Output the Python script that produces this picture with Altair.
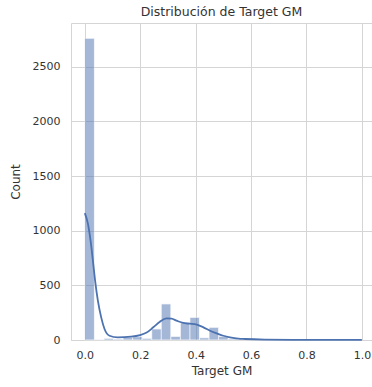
import altair as alt
import pandas as pd

# Histogram of Target GM: 29 equal-width bins over [0, 1]
n_bins = 29
bin_counts = [2760, 5, 15, 8, 25, 30, 15, 101, 330, 33, 157, 207, 20, 116, 33,
              10, 5, 3, 2, 1, 1, 1, 0, 1, 0, 1, 0, 1, 3]

# Kernel density estimate (scaled to counts)
kde_x = [0.0, 0.011, 0.0205, 0.029, 0.037, 0.047, 0.059, 0.071, 0.089, 0.119,
         0.167, 0.199, 0.223, 0.247, 0.271, 0.295, 0.313, 0.331, 0.355, 0.379,
         0.404, 0.428, 0.452, 0.476, 0.5, 0.524, 0.554, 0.578, 0.65, 0.75, 0.9, 1.0]
kde_y = [1161, 1064, 911, 727, 544, 360, 207, 101, 39, 24,
         30, 44, 68, 116, 168, 198, 195, 177, 156, 149,
         140, 116, 85, 61, 39, 24, 12, 9, 4, 2, 2, 2]

x_ticks = [0.0, 0.2, 0.4, 0.6, 0.8, 1.0]
y_ticks = [0, 500, 1000, 1500, 2000, 2500]

hist = pd.DataFrame({
    "start": [i / n_bins for i in range(n_bins)],
    "end": [(i + 1) / n_bins for i in range(n_bins)],
    "count": bin_counts,
})
kde = pd.DataFrame({"x": kde_x, "y": kde_y})

FONT = "DejaVu Sans"
TEXT = "#333333"
GRID = "#d5d5d5"
BLUE = "#4C72B0"

x_scale = alt.Scale(domain=[-0.05, 1.0365], nice=False, zero=False)
y_scale = alt.Scale(domain=[0, 2900], nice=False)

x_axis = alt.Axis(values=x_ticks, format=".1f", title="Target GM", tickSize=0,
                  domain=False, labelPadding=9, titlePadding=5, labelFlush=False)
y_axis = alt.Axis(values=y_ticks, format="d", title="Count", tickSize=0,
                  domain=False, labelPadding=11, titlePadding=10)

bars = alt.Chart(hist).mark_bar(
    color=BLUE, opacity=0.5, stroke="white", strokeWidth=0.7, strokeOpacity=1
).encode(
    x=alt.X("start:Q", scale=x_scale, axis=x_axis),
    x2="end:Q",
    y=alt.Y("count:Q", scale=y_scale, axis=y_axis),
    y2=alt.datum(0),
)

line = alt.Chart(kde).mark_line(
    color=BLUE, strokeWidth=1.8, interpolate="monotone"
).encode(
    x=alt.X("x:Q", scale=x_scale),
    y=alt.Y("y:Q", scale=y_scale),
)

chart = (
    alt.layer(bars, line)
    .properties(
        width=301,
        height=317,
        title=alt.TitleParams("Distribución de Target GM", fontSize=12.5,
                              font=FONT, color=TEXT, fontWeight="normal",
                              anchor="middle", offset=5),
        autosize=alt.AutoSizeParams(type="none"),
        padding={"left": 71, "top": 23, "right": 0, "bottom": 47},
    )
    .configure(background="white")
    .configure_view(stroke=GRID, strokeWidth=1)
    .configure_axis(
        gridColor=GRID, gridWidth=1, labelFont=FONT, titleFont=FONT,
        labelFontSize=11, titleFontSize=12, labelColor=TEXT, titleColor=TEXT,
        titleFontWeight="normal",
    )
)

chart.save("out.html", embed_options={"renderer": "svg", "actions": False})
